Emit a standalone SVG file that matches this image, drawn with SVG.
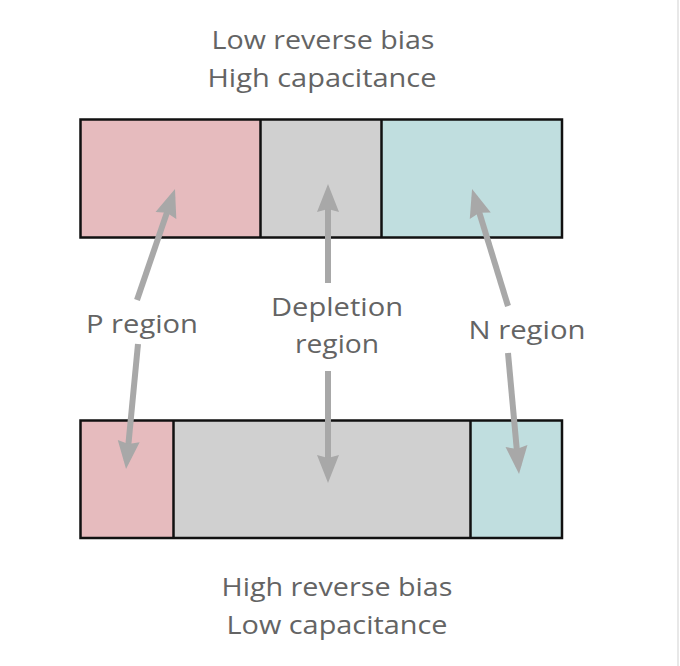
<svg xmlns="http://www.w3.org/2000/svg" width="680" height="666" viewBox="0 0 680 666">
  <style>
    .lbl { font-family: "Open Sans", "Liberation Sans", sans-serif; font-size: 26px; fill: #646464; text-anchor: middle; }
    .p { fill: #E6BBBE; }
    .d { fill: #D0D0D0; }
    .n { fill: #C0DEDF; }
    .box { fill: none; stroke: #111111; stroke-width: 2.5; }
    .div { stroke: #111111; stroke-width: 2.5; }
    .arr { fill: none; stroke: #A8A8A8; stroke-width: 6; marker-end: url(#head); }
  </style>
  <defs>
    <marker id="head" markerUnits="userSpaceOnUse" markerWidth="30" markerHeight="24" viewBox="0 -12 30 24" refX="20" refY="0" orient="auto">
      <path d="M0,-11 L28,0 L0,11 L3,0 Z" fill="#A8A8A8"/>
    </marker>
  </defs>
  <rect x="0" y="0" width="680" height="666" fill="#FFFFFF"/>
  <rect x="677" y="0" width="2" height="666" fill="#E8E8E8"/>

  <text class="lbl" x="323" y="49" textLength="223" lengthAdjust="spacingAndGlyphs">Low reverse bias</text>
  <text class="lbl" x="322" y="87" textLength="229" lengthAdjust="spacingAndGlyphs">High capacitance</text>

  <g id="top-bar">
    <g id="top-p"><rect class="p" x="80" y="119" width="180" height="119"/></g>
    <g id="top-d"><rect class="d" x="260" y="119" width="121" height="119"/></g>
    <g id="top-n"><rect class="n" x="381" y="119" width="181" height="119"/></g>
    <line class="div" x1="260.5" y1="119" x2="260.5" y2="238"/>
    <line class="div" x1="381.5" y1="119" x2="381.5" y2="238"/>
    <rect class="box" x="80.5" y="119.5" width="481.5" height="118"/>
  </g>

  <g id="bottom-bar">
    <g id="bot-p"><rect class="p" x="80" y="420" width="93" height="118"/></g>
    <g id="bot-d"><rect class="d" x="173" y="420" width="297" height="118"/></g>
    <g id="bot-n"><rect class="n" x="470" y="420" width="92" height="118"/></g>
    <line class="div" x1="173.5" y1="420" x2="173.5" y2="538"/>
    <line class="div" x1="470.5" y1="420" x2="470.5" y2="538"/>
    <rect class="box" x="80.5" y="420.5" width="481.5" height="117.5"/>
  </g>

  <g id="connectors">
    <line class="arr" x1="137" y1="300" x2="172.4" y2="196.6"/>
    <line class="arr" x1="138" y1="344" x2="126.8" y2="461"/>
    <line class="arr" x1="328" y1="283" x2="328" y2="192"/>
    <line class="arr" x1="328" y1="371" x2="328" y2="475"/>
    <line class="arr" x1="508" y1="306" x2="474.4" y2="196.6"/>
    <line class="arr" x1="508" y1="353" x2="518.3" y2="466"/>
  </g>

  <g id="label-p"><text class="lbl" x="142" y="333" textLength="112" lengthAdjust="spacingAndGlyphs">P region</text></g>
  <g id="label-d">
    <text class="lbl" x="337" y="316" textLength="132" lengthAdjust="spacingAndGlyphs">Depletion</text>
    <text class="lbl" x="337" y="353" textLength="84" lengthAdjust="spacingAndGlyphs">region</text>
  </g>
  <g id="label-n"><text class="lbl" x="527" y="339" textLength="117" lengthAdjust="spacingAndGlyphs">N region</text></g>

  <text class="lbl" x="337" y="596" textLength="231" lengthAdjust="spacingAndGlyphs">High reverse bias</text>
  <text class="lbl" x="337" y="634" textLength="221" lengthAdjust="spacingAndGlyphs">Low capacitance</text>
</svg>
